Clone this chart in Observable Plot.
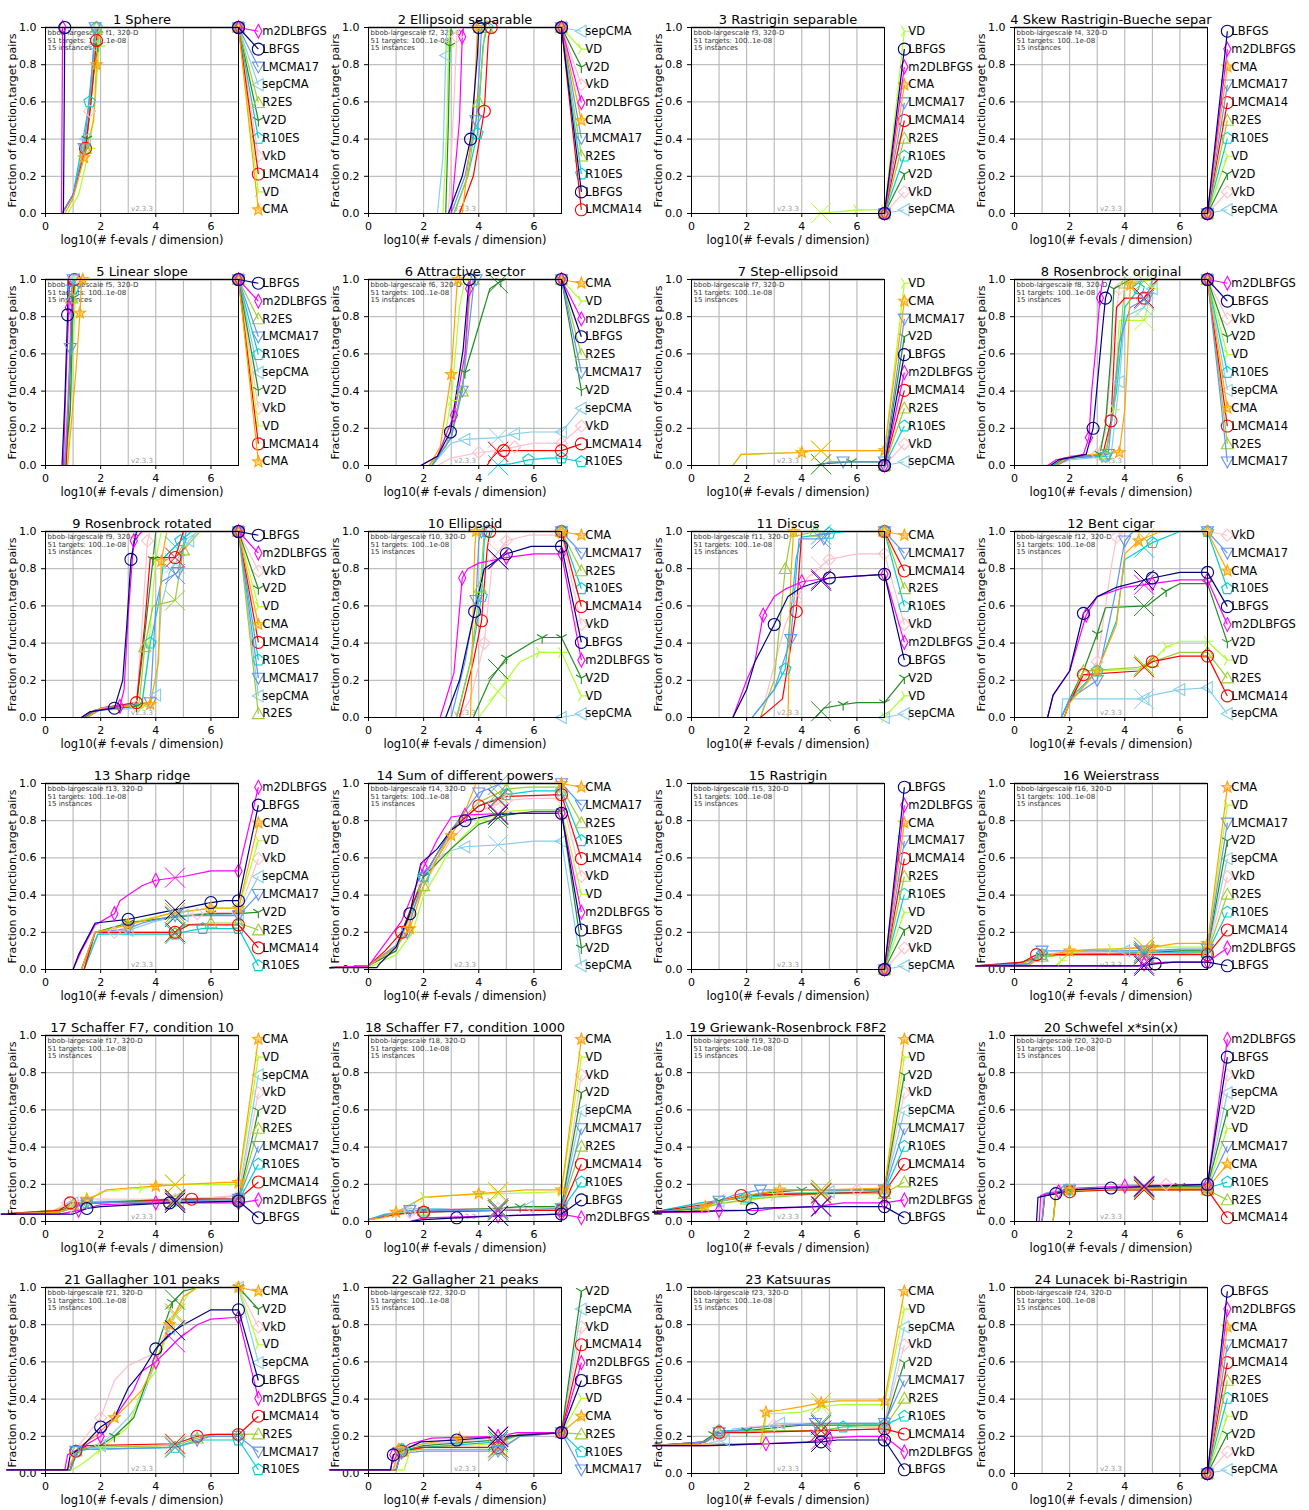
<!DOCTYPE html>
<html><head><meta charset="utf-8">
<script src="https://cdn.jsdelivr.net/npm/d3@7"></script>
<script src="https://cdn.jsdelivr.net/npm/@observablehq/plot@0.6"></script>
<style>
body{margin:0;background:#fff;font-family:"DejaVu Sans",sans-serif;}
#grid{position:relative;width:1309px;height:1510px;overflow:hidden;}
#grid svg{position:absolute;overflow:visible;}
</style></head><body><div id="grid"></div><script>
// ---------- categories ----------
const ALG = ["LBFGS","m2DLBFGS","CMA","LMCMA17","LMCMA14","R2ES","R10ES","V2D","VD","VkD","sepCMA"];
const COLORS = ["#000080","#ff00ff","#ffa500","#6495ed","#ff0000","#9acd32","#00ced1","#228b22","#adff2f","#ffc0cb","#87ceeb"];
const titles = ["1 Sphere","2 Ellipsoid separable","3 Rastrigin separable","4 Skew Rastrigin-Bueche separ",
 "5 Linear slope","6 Attractive sector","7 Step-ellipsoid","8 Rosenbrock original",
 "9 Rosenbrock rotated","10 Ellipsoid","11 Discus","12 Bent cigar",
 "13 Sharp ridge","14 Sum of different powers","15 Rastrigin","16 Weierstrass",
 "17 Schaffer F7, condition 10","18 Schaffer F7, condition 1000","19 Griewank-Rosenbrock F8F2","20 Schwefel x*sin(x)",
 "21 Gallagher 101 peaks","22 Gallagher 21 peaks","23 Katsuuras","24 Lunacek bi-Rastrigin"];
const xTicks = [0,2,4,6];
const xGrid = [1,2,3,4,5,6];
const yTicks = [0,0.2,0.4,0.6,0.8,1];
const yGrid = [0.2,0.4,0.6,0.8];
const crossAt = 4.7; // log10 of median budget
const xLabel = "log10(# f-evals / dimension)";
const yLabel = "Fraction of function,target pairs";

// ---------- series: [algorithm, x0,y0, x1,y1, ...] ----------
const f01 = [
 ["LBFGS",0.6,0,0.65,0,0.7,1,7,1],
 ["m2DLBFGS",0.58,0,0.6,0.5,0.62,1,7,1],
 ["CMA",0.7,0,1.0,0.08,1.4,0.3,1.75,0.5,1.85,0.8,1.95,1,7,1],
 ["LMCMA17",0.6,0,1.0,0.1,1.4,0.35,1.7,0.8,1.8,1,7,1],
 ["LMCMA14",0.6,0,1.0,0.1,1.45,0.35,1.65,0.6,1.85,0.93,1.9,1,7,1],
 ["R2ES",0.6,0,1.0,0.1,1.45,0.35,1.7,0.7,1.85,1,7,1],
 ["R10ES",0.6,0,1.0,0.1,1.6,0.6,1.8,0.95,1.85,1,7,1],
 ["V2D",0.6,0,1.0,0.1,1.5,0.4,1.75,0.75,1.9,0.9,1.95,1,7,1],
 ["VD",0.8,0,1.2,0.1,1.6,0.35,1.8,0.6,1.95,0.9,2.0,1,7,1],
 ["VkD",0.6,0,1.0,0.1,1.6,0.55,1.8,0.95,1.85,1,7,1],
 ["sepCMA",0.6,0,1.0,0.1,1.45,0.4,1.6,0.6,1.75,0.9,1.85,1,7,1]];
const legend01 = ["m2DLBFGS","LBFGS","LMCMA17","sepCMA","R2ES","V2D","R10ES","VkD","LMCMA14","VD","CMA"];
const f02 = [
 ["sepCMA",2.5,0,2.7,0.3,2.8,0.85,2.85,1,7,1],
 ["VD",2.7,0,2.85,0.5,2.9,0.9,2.95,1,7,1],
 ["V2D",2.8,0,2.9,0.5,2.95,0.9,3.0,1,7,1],
 ["VkD",2.9,0,3.1,0.6,3.2,0.95,3.3,1,7,1],
 ["m2DLBFGS",3.0,0,3.3,0.5,3.4,0.95,3.45,1,7,1],
 ["CMA",3.4,0,3.8,0.5,3.95,1,7,1],
 ["LBFGS",2.9,0,3.4,0.2,3.7,0.4,3.95,0.85,4.0,1,7,1],
 ["LMCMA17",3.0,0,3.5,0.2,3.9,0.5,4.05,0.85,4.1,1,7,1],
 ["R2ES",3.1,0,3.6,0.2,4.0,0.6,4.2,0.95,4.3,1,7,1],
 ["R10ES",3.1,0,3.6,0.2,3.95,0.43,4.15,0.9,4.3,1,7,1],
 ["LMCMA14",3.3,0,3.8,0.2,4.2,0.55,4.35,0.95,4.45,1,7,1]];
const legend02 = ["sepCMA","VD","V2D","VkD","m2DLBFGS","CMA","LMCMA17","R2ES","R10ES","LBFGS","LMCMA14"];
const f03 = [["VD",4.5,0,5.4,0.01,6.0,0.02,7,0.02]];
const legend03 = ["VD","LBFGS","m2DLBFGS","CMA","LMCMA17","LMCMA14","R2ES","R10ES","V2D","VkD","sepCMA"];
const f04 = [];
const legend04 = ["LBFGS","m2DLBFGS","CMA","LMCMA17","LMCMA14","R2ES","R10ES","VD","V2D","VkD","sepCMA"];
const f05 = [
 ["LBFGS",0.6,0,0.7,0.34,0.8,0.81,0.82,1,7,1],
 ["m2DLBFGS",0.65,0,0.75,0.48,0.85,0.85,0.88,1,7,1],
 ["R2ES",0.7,0,0.85,0.5,0.95,0.9,1.0,1,7,1],
 ["LMCMA17",0.7,0,0.85,0.4,0.9,0.63,0.95,0.95,1.0,1,7,1],
 ["R10ES",0.7,0,0.9,0.5,1.0,0.95,1.05,1,7,1],
 ["sepCMA",0.75,0,0.95,0.5,1.05,1,7,1],
 ["V2D",0.7,0,0.9,0.3,1.0,0.9,1.05,1,7,1],
 ["VkD",0.7,0,0.95,0.75,1.05,1,7,1],
 ["VD",0.8,0,1.0,0.6,1.1,1,7,1],
 ["LMCMA14",0.75,0,0.95,0.8,1.05,1,7,1],
 ["CMA",0.8,0,1.1,0.5,1.25,0.82,1.3,0.97,1.35,1,7,1]];
const legend05 = ["LBFGS","m2DLBFGS","R2ES","LMCMA17","R10ES","sepCMA","V2D","VkD","VD","LMCMA14","CMA"];
const f06 = [
 ["CMA",2.2,0,2.6,0.1,3.0,0.49,3.2,0.95,3.25,1,7,1],
 ["VD",2.3,0,2.7,0.1,3.0,0.35,3.3,0.85,3.5,1,7,1],
 ["m2DLBFGS",1.9,0,2.5,0.05,3.1,0.27,3.5,0.6,3.65,0.95,3.7,1,7,1],
 ["LBFGS",1.9,0,2.5,0.05,2.97,0.18,3.43,0.62,3.65,1,7,1],
 ["R2ES",2.2,0,2.8,0.1,3.4,0.4,3.7,0.95,3.8,1,7,1],
 ["LMCMA17",2.3,0,3.0,0.15,3.4,0.4,3.8,0.95,3.9,1,7,1],
 ["V2D",2.3,0,3.0,0.15,3.5,0.5,4.0,0.75,4.4,0.95,4.8,0.99,4.95,1,7,1],
 ["sepCMA",2.3,0,3.0,0.12,3.5,0.14,4.7,0.15,5.3,0.17,5.9,0.18,7,0.18],
 ["VkD",2.5,0,3.0,0.04,4.0,0.07,4.7,0.08,5.3,0.1,6.0,0.12,7,0.12],
 ["LMCMA14",4.3,0,4.6,0.07,4.9,0.08,7,0.08],
 ["R10ES",4.6,0,5.2,0.01,5.8,0.03,6.5,0.04,7,0.04]];
const legend06 = ["CMA","VD","m2DLBFGS","LBFGS","R2ES","LMCMA17","V2D","sepCMA","VkD","LMCMA14","R10ES"];
const f07 = [
 ["CMA",1.5,0,1.8,0.06,4.0,0.07,4.3,0.08,7,0.08],
 ["VD",1.5,0,1.8,0.06,4.0,0.07,4.4,0.08,7,0.08],
 ["LMCMA17",4.7,0,5.0,0.02,5.5,0.02,7,0.02],
 ["V2D",4.5,0,4.8,0.01,5.8,0.02,7,0.02]];
const legend07 = ["VD","CMA","LMCMA17","V2D","LBFGS","m2DLBFGS","LMCMA14","R2ES","R10ES","VkD","sepCMA"];
const f08 = [
 ["m2DLBFGS",1.2,0,1.5,0.03,2.5,0.06,2.7,0.15,2.8,0.4,2.95,0.63,3.1,0.9,3.2,1,7,1],
 ["LBFGS",1.3,0,1.6,0.03,2.6,0.06,2.85,0.2,3.0,0.43,3.2,0.75,3.3,0.9,3.5,1,7,1],
 ["VkD",1.4,0,1.8,0.04,3.0,0.06,3.3,0.18,3.6,0.7,3.8,0.95,3.9,1,7,1],
 ["V2D",1.4,0,1.8,0.04,3.1,0.06,3.3,0.22,3.5,0.6,3.6,0.95,4.2,1,7,1],
 ["VD",1.5,0,2.0,0.04,3.3,0.06,3.6,0.3,3.8,0.78,4.7,0.78,5.0,0.95,5.2,1,7,1],
 ["R10ES",1.4,0,2.0,0.04,3.3,0.05,3.7,0.4,4.0,0.85,4.5,0.95,4.6,1,7,1],
 ["sepCMA",1.5,0,2.0,0.03,3.5,0.05,3.8,0.45,4.0,0.8,4.7,0.85,5.0,0.95,5.2,1,7,1],
 ["CMA",1.5,0,2.0,0.05,3.8,0.07,4.0,0.3,4.1,0.58,4.2,0.97,4.3,1,7,1],
 ["LMCMA14",1.5,0,2.0,0.04,3.2,0.06,3.5,0.24,3.7,0.85,4.0,0.9,4.7,0.9,5.0,0.97,5.2,1,7,1],
 ["R2ES",1.5,0,2.0,0.04,3.3,0.06,3.6,0.3,3.9,0.8,4.0,0.98,5.2,1,7,1],
 ["LMCMA17",1.5,0,2.0,0.04,3.4,0.06,3.8,0.66,4.2,0.85,4.8,0.9,5.0,1,7,1]];
const legend08 = ["m2DLBFGS","LBFGS","VkD","V2D","VD","R10ES","sepCMA","CMA","LMCMA14","R2ES","LMCMA17"];
const f09 = [
 ["LBFGS",1.3,0,1.6,0.03,2.5,0.05,2.8,0.2,2.95,0.5,3.1,0.85,3.3,1,7,1],
 ["m2DLBFGS",1.3,0,1.6,0.03,2.7,0.06,2.85,0.15,3.0,0.55,3.2,0.95,3.5,1,7,1],
 ["VkD",1.4,0,1.8,0.04,3.3,0.06,3.5,0.5,3.7,0.95,3.8,1,7,1],
 ["V2D",1.4,0,1.8,0.04,3.3,0.06,3.6,0.45,3.9,0.85,4.0,1,7,1],
 ["VD",1.5,0,2.0,0.05,3.5,0.06,3.7,0.3,4.0,0.85,4.2,1,7,1],
 ["CMA",1.5,0,2.0,0.05,3.8,0.07,4.1,0.3,4.2,0.84,4.4,1,7,1],
 ["LMCMA14",1.5,0,2.0,0.05,3.3,0.08,3.6,0.5,3.8,0.86,4.7,0.86,5.0,1,7,1],
 ["R10ES",1.5,0,2.0,0.05,3.5,0.08,3.8,0.4,4.1,0.61,4.3,0.86,4.9,0.95,5.3,1,7,1],
 ["LMCMA17",1.5,0,2.0,0.05,3.8,0.08,4.0,0.6,4.2,0.73,4.8,0.78,5.1,1,7,1],
 ["sepCMA",1.5,0,2.0,0.04,3.5,0.05,4.0,0.12,4.2,0.6,4.5,0.78,5.2,0.95,5.5,1,7,1],
 ["R2ES",1.5,0,2.0,0.05,3.4,0.08,3.6,0.38,3.9,0.6,4.7,0.63,5.0,0.9,5.6,1,7,1]];
const legend09 = ["LBFGS","m2DLBFGS","VkD","V2D","VD","CMA","LMCMA14","R10ES","LMCMA17","sepCMA","R2ES"];
const f10 = [
 ["CMA",3.7,0,3.85,0.9,3.9,1,7,1],
 ["LMCMA17",3.0,0,3.5,0.3,3.9,0.63,4.0,0.95,4.1,1,7,1],
 ["R2ES",3.2,0,3.7,0.3,4.05,0.7,4.2,1,7,1],
 ["R10ES",3.2,0,3.7,0.3,4.1,0.65,4.2,0.95,4.3,1,7,1],
 ["LMCMA14",3.3,0,3.8,0.3,4.1,0.52,4.3,0.9,4.4,1,7,1],
 ["VkD",3.3,0,3.7,0.1,4.2,0.4,4.5,0.85,5.0,0.95,5.8,0.98,7,0.98],
 ["LBFGS",2.8,0,3.3,0.2,3.85,0.57,4.2,0.8,5.0,0.88,5.9,0.92,7,0.92],
 ["m2DLBFGS",2.6,0,3.1,0.24,3.4,0.75,3.6,0.8,4.0,0.83,5.0,0.86,6.0,0.88,7,0.88],
 ["V2D",3.8,0,4.4,0.2,5.0,0.32,6.0,0.41,6.3,0.43,7,0.43],
 ["VD",4.0,0,4.5,0.1,5.0,0.2,5.5,0.3,6.2,0.35,7,0.35]];
const legend10 = ["CMA","LMCMA17","R2ES","R10ES","LMCMA14","VkD","LBFGS","m2DLBFGS","V2D","VD","sepCMA"];
const f11 = [
 ["CMA",3.5,0,3.6,0.75,3.7,1,7,1],
 ["LMCMA17",2.2,0,3.0,0.15,3.6,0.42,3.9,0.96,4.8,0.96,5.0,1,7,1],
 ["LMCMA14",2.5,0,3.3,0.1,3.8,0.57,4.0,1,7,1],
 ["R2ES",2.5,0,3.0,0.2,3.4,0.8,3.6,0.97,4.5,1,7,1],
 ["R10ES",2.2,0,3.0,0.15,3.4,0.26,3.8,0.86,4.0,0.97,5.0,0.99,5.6,1,7,1],
 ["VkD",2.5,0,3.4,0.5,3.8,0.63,4.2,0.75,5.0,0.85,6.0,0.88,7,0.88],
 ["m2DLBFGS",1.5,0,2.0,0.2,2.3,0.3,2.6,0.55,3.0,0.65,3.4,0.69,4.0,0.73,5.0,0.75,6.0,0.76,7,0.77],
 ["LBFGS",1.5,0,2.0,0.15,2.3,0.3,3.0,0.5,3.5,0.65,4.0,0.7,5.0,0.75,6.0,0.76,7,0.77],
 ["V2D",4.5,0,4.8,0.05,5.5,0.07,6.0,0.08,7,0.08]];
const legend11 = ["CMA","LMCMA17","LMCMA14","R2ES","R10ES","VkD","m2DLBFGS","LBFGS","V2D","VD","sepCMA"];
const f12 = [
 ["VkD",1.7,0,2.0,0.1,3.0,0.3,3.5,0.8,3.7,0.97,4.0,1,7,1],
 ["LMCMA17",1.7,0,2.0,0.1,3.0,0.2,3.7,0.7,4.0,0.95,4.3,1,7,1],
 ["CMA",1.8,0,2.0,0.08,3.0,0.25,3.7,0.5,4.0,0.88,4.5,0.95,5.3,1,7,1],
 ["R10ES",1.7,0,2.0,0.1,3.0,0.25,3.7,0.52,4.0,0.85,5.0,0.94,6.0,1,7,1],
 ["LBFGS",1.2,0,1.4,0.12,2.0,0.25,2.5,0.56,3.0,0.65,3.7,0.7,5.0,0.75,6.0,0.78,7,0.78],
 ["m2DLBFGS",1.2,0,1.4,0.12,2.0,0.25,2.6,0.55,3.0,0.65,4.0,0.7,5.0,0.72,6.0,0.74,7,0.74],
 ["V2D",1.7,0,2.0,0.1,2.5,0.25,3.0,0.45,3.3,0.59,4.8,0.6,5.5,0.68,6.0,0.72,7,0.72],
 ["VD",1.8,0,2.0,0.08,3.0,0.25,4.5,0.26,5.0,0.3,5.5,0.38,6.0,0.41,7,0.41],
 ["R2ES",1.8,0,2.0,0.08,2.5,0.25,4.5,0.27,5.0,0.3,6.0,0.35,7,0.35],
 ["LMCMA14",1.8,0,2.0,0.08,2.5,0.23,4.5,0.25,5.0,0.3,6.0,0.33,7,0.33],
 ["sepCMA",1.7,0,1.75,0.1,4.7,0.1,5.0,0.12,6.0,0.15,7,0.16]];
const legend12 = ["VkD","LMCMA17","CMA","R10ES","LBFGS","m2DLBFGS","V2D","VD","R2ES","LMCMA14","sepCMA"];
const f13 = [
 ["m2DLBFGS",1.0,0,1.3,0.1,1.8,0.24,2.5,0.3,2.7,0.37,3.0,0.4,3.5,0.45,4.0,0.48,5.0,0.5,6.0,0.53,7,0.53],
 ["LBFGS",1.0,0,1.2,0.08,1.8,0.25,3.0,0.27,4.0,0.3,5.0,0.33,6.0,0.36,6.5,0.37,7,0.37],
 ["CMA",1.3,0,1.8,0.2,3.0,0.24,4.5,0.3,6.0,0.33,7,0.33],
 ["VD",1.4,0,1.8,0.2,3.0,0.25,4.5,0.3,6.0,0.33,7,0.33],
 ["VkD",1.3,0,1.8,0.2,2.5,0.2,4.0,0.27,5.5,0.3,7,0.31],
 ["sepCMA",1.3,0,1.9,0.19,3.0,0.21,4.0,0.26,5.0,0.29,7,0.3],
 ["LMCMA17",1.3,0,1.8,0.2,3.0,0.22,3.5,0.25,4.7,0.29,7,0.29],
 ["V2D",1.3,0,1.8,0.2,3.0,0.25,4.5,0.28,6.0,0.3,7,0.3],
 ["R2ES",1.4,0,1.8,0.2,4.7,0.2,5.0,0.24,6.0,0.25,7,0.25],
 ["LMCMA14",1.4,0,1.8,0.2,4.7,0.2,5.2,0.24,7,0.24],
 ["R10ES",1.4,0,1.9,0.19,4.7,0.19,5.3,0.21,5.7,0.22,7,0.22]];
const legend13 = ["m2DLBFGS","LBFGS","CMA","VD","VkD","sepCMA","LMCMA17","V2D","R2ES","LMCMA14","R10ES"];
const f14 = [
 ["CMA",-1.4,0.01,0,0.02,1.0,0.12,1.5,0.22,2.0,0.45,2.5,0.6,3.0,0.72,3.5,0.85,3.9,1,7,1],
 ["LMCMA17",-1.4,0.01,0,0.02,1.0,0.13,1.4,0.2,2.0,0.5,3.0,0.75,4.0,0.95,4.8,1,7,1],
 ["R2ES",-1.4,0.01,0,0.02,1.0,0.12,2.0,0.45,3.0,0.75,4.0,0.9,5.0,0.97,5.8,0.98,7,0.98],
 ["R10ES",-1.4,0.01,0,0.02,1.0,0.12,2.0,0.5,3.0,0.75,4.0,0.88,5.0,0.94,6.0,0.96,7,0.96],
 ["LMCMA14",-1.4,0.01,0,0.02,0.6,0.1,1.2,0.2,2.0,0.5,3.0,0.75,4.0,0.88,5.0,0.93,7,0.94],
 ["VkD",-1.4,0.01,0,0.02,1.0,0.1,2.0,0.45,3.0,0.7,4.0,0.85,5.0,0.91,6.0,0.92,7,0.92],
 ["VD",-1.4,0.01,0,0.01,1.0,0.08,1.6,0.2,2.0,0.4,3.0,0.65,4.0,0.8,5.0,0.85,6.0,0.86,7,0.86],
 ["m2DLBFGS",-1.4,0.01,0,0.02,1.2,0.26,2.0,0.55,2.5,0.7,3.0,0.82,3.5,0.83,5.0,0.84,7,0.84],
 ["LBFGS",-1.4,0.01,0.3,0.01,0.4,0.03,1.0,0.12,1.5,0.3,1.9,0.57,2.5,0.65,3.0,0.75,3.5,0.8,4.5,0.83,5.5,0.84,7,0.84],
 ["V2D",-1.4,0.01,0,0.02,1.0,0.1,2.0,0.5,3.0,0.65,4.0,0.78,5.0,0.83,6.0,0.85,7,0.85],
 ["sepCMA",-1.4,0.01,0,0.02,1.0,0.12,2.0,0.5,2.5,0.6,3.0,0.64,3.5,0.66,4.7,0.67,6.0,0.69,7,0.69]];
const legend14 = ["CMA","LMCMA17","R2ES","R10ES","LMCMA14","VkD","VD","m2DLBFGS","LBFGS","V2D","sepCMA"];
const f15 = [];
const legend15 = ["LBFGS","m2DLBFGS","CMA","LMCMA17","LMCMA14","R2ES","R10ES","VD","V2D","VkD","sepCMA"];
const f16 = [
 ["CMA",-1.4,0.02,0.5,0.02,1.0,0.07,2.0,0.1,3.0,0.11,3.7,0.11,5.0,0.12,5.9,0.14,7,0.14],
 ["VD",-1.4,0.02,1.5,0.02,1.7,0.05,2.0,0.09,3.5,0.11,4.7,0.12,7,0.12],
 ["LMCMA17",-1.4,0.02,0.5,0.03,1.0,0.1,3.0,0.1,4.7,0.1,6.0,0.11,7,0.11],
 ["V2D",-1.4,0.02,0,0.03,1.0,0.07,2.0,0.08,4.7,0.09,6.0,0.1,7,0.1],
 ["sepCMA",-1.4,0.02,0.5,0.03,1.0,0.08,2.5,0.09,4.0,0.1,7,0.1],
 ["VkD",-1.4,0.02,0.5,0.04,1.0,0.08,1.5,0.09,4.7,0.09,7,0.09],
 ["R2ES",-1.4,0.02,0,0.02,1.0,0.07,2.0,0.08,4.7,0.08,7,0.09],
 ["R10ES",-1.4,0.02,0.5,0.03,1.0,0.08,5.0,0.09,7,0.09],
 ["LMCMA14",-1.4,0.02,0.3,0.04,0.8,0.08,2.0,0.08,7,0.08],
 ["m2DLBFGS",-1.4,0.02,4.5,0.02,4.7,0.03,5.5,0.04,7,0.04],
 ["LBFGS",-1.4,0.02,4.7,0.02,5.1,0.03,5.8,0.04,7,0.04]];
const legend16 = ["CMA","VD","LMCMA17","V2D","sepCMA","VkD","R2ES","R10ES","LMCMA14","m2DLBFGS","LBFGS"];
const f17 = [
 ["CMA",-1.6,0.04,0.5,0.05,1.0,0.08,1.5,0.12,2.0,0.15,2.2,0.17,3.0,0.18,4.0,0.19,5.0,0.2,6.5,0.21,7,0.21],
 ["VD",-1.6,0.04,0.5,0.05,1.0,0.07,1.5,0.1,2.0,0.16,3.5,0.18,4.7,0.2,7,0.2],
 ["sepCMA",-1.6,0.04,0.3,0.05,1.0,0.1,2.0,0.11,3.0,0.11,4.7,0.12,6.5,0.13,7,0.14],
 ["VkD",-1.6,0.04,0.3,0.06,0.8,0.1,1.5,0.12,4.7,0.12,6.0,0.13,7,0.14],
 ["V2D",-1.6,0.04,0.5,0.06,1.5,0.1,3.0,0.11,4.7,0.12,7,0.12],
 ["R2ES",-1.6,0.04,0.3,0.06,1.0,0.09,2.0,0.1,4.7,0.11,7,0.12],
 ["LMCMA17",-1.6,0.04,0.5,0.05,1.5,0.1,4.7,0.11,7,0.12],
 ["R10ES",-1.6,0.04,0.5,0.05,1.5,0.1,5.0,0.11,7,0.11],
 ["LMCMA14",-1.6,0.04,0.5,0.06,0.9,0.1,2.0,0.1,5.3,0.12,7,0.12],
 ["m2DLBFGS",-1.6,0.04,0.5,0.04,1.2,0.06,2.0,0.09,4.0,0.1,7,0.1],
 ["LBFGS",-1.6,0.04,1.0,0.04,1.5,0.07,2.0,0.08,4.5,0.1,7,0.11]];
const legend17 = ["CMA","VD","sepCMA","VkD","V2D","R2ES","LMCMA17","R10ES","LMCMA14","m2DLBFGS","LBFGS"];
const f18 = [
 ["CMA",0,0.01,0.5,0.02,1.0,0.05,2.0,0.13,4.0,0.15,5.7,0.17,7,0.17],
 ["VD",0,0.01,1.0,0.04,2.0,0.13,3.0,0.14,4.7,0.15,7,0.16],
 ["VkD",0,0.01,0.6,0.02,1.5,0.05,3.0,0.07,4.7,0.07,7,0.08],
 ["V2D",0,0.01,1.0,0.04,2.0,0.06,4.7,0.07,5.5,0.08,7,0.08],
 ["sepCMA",0,0.01,1.0,0.05,1.5,0.07,4.7,0.07,5.8,0.08,7,0.08],
 ["LMCMA17",0,0.01,1.0,0.05,1.5,0.06,4.7,0.06,7,0.07],
 ["R2ES",0,0.01,1.0,0.04,2.0,0.06,4.7,0.06,7,0.07],
 ["LMCMA14",0,0.01,1.0,0.04,2.0,0.05,4.7,0.06,7,0.06],
 ["R10ES",0,0.01,0.6,0.04,2.0,0.05,4.7,0.06,7,0.06],
 ["LBFGS",1.5,0,2.0,0.01,3.2,0.02,4.6,0.03,7,0.04],
 ["m2DLBFGS",1.5,0,2.0,0.02,4.7,0.03,7,0.04]];
const legend18 = ["CMA","VD","VkD","V2D","sepCMA","LMCMA17","R2ES","LMCMA14","R10ES","LBFGS","m2DLBFGS"];
const f19 = [
 ["CMA",-1.4,0.05,0,0.05,0.5,0.08,1.0,0.11,2.0,0.14,3.2,0.17,4.7,0.17,7,0.18],
 ["VD",-1.4,0.05,0.3,0.06,1.0,0.1,2.0,0.11,3.0,0.14,4.7,0.16,7,0.17],
 ["V2D",-1.4,0.05,0.3,0.07,1.0,0.11,2.5,0.15,4.0,0.17,7,0.17],
 ["VkD",-1.4,0.05,0.5,0.1,2.0,0.13,4.0,0.15,6.0,0.17,7,0.17],
 ["sepCMA",-1.4,0.05,0.3,0.07,1.0,0.11,3.0,0.15,5.0,0.16,6.0,0.17,7,0.17],
 ["LMCMA17",-1.4,0.05,0,0.07,1.0,0.11,1.5,0.14,2.5,0.17,7,0.17],
 ["R10ES",-1.4,0.05,0.3,0.1,2.0,0.13,3.5,0.15,7,0.16],
 ["LMCMA14",-1.4,0.05,0.4,0.09,1.8,0.14,4.7,0.15,7,0.16],
 ["R2ES",-1.4,0.05,0.5,0.08,2.0,0.12,4.7,0.15,7,0.15],
 ["m2DLBFGS",-1.4,0.05,0.5,0.05,1.0,0.06,2.5,0.06,3.0,0.07,4.5,0.08,5.5,0.1,7,0.1],
 ["LBFGS",-1.4,0.05,2.0,0.06,2.2,0.07,4.5,0.08,7,0.08]];
const legend19 = ["CMA","VD","V2D","VkD","sepCMA","LMCMA17","R10ES","LMCMA14","R2ES","m2DLBFGS","LBFGS"];
const f20 = [
 ["LBFGS",0.8,0,0.85,0.13,1.5,0.15,2.0,0.17,3.5,0.18,5.0,0.19,7,0.2],
 ["m2DLBFGS",0.9,0,0.95,0.14,1.6,0.16,2.3,0.18,4.0,0.19,7,0.2],
 ["VkD",1.0,0,1.05,0.15,1.6,0.17,4.0,0.18,5.5,0.2,7,0.2],
 ["sepCMA",1.0,0,1.1,0.15,2.0,0.17,4.7,0.18,7,0.19],
 ["V2D",1.4,0,1.5,0.15,2.0,0.17,4.0,0.18,6.0,0.19,7,0.19],
 ["VD",1.4,0,1.5,0.15,2.0,0.17,7,0.18],
 ["LMCMA17",1.0,0,1.1,0.15,2.0,0.17,4.7,0.18,7,0.18],
 ["CMA",1.4,0,1.5,0.15,2.0,0.17,7,0.18],
 ["R10ES",1.0,0,1.1,0.15,1.9,0.17,4.7,0.18,7,0.18],
 ["R2ES",1.4,0,1.5,0.15,2.0,0.17,7,0.17],
 ["LMCMA14",1.0,0,1.1,0.14,2.0,0.16,3.5,0.17,7,0.17]];
const legend20 = ["m2DLBFGS","LBFGS","VkD","sepCMA","V2D","VD","LMCMA17","CMA","R10ES","R2ES","LMCMA14"];
const f21 = [
 ["CMA",-1.4,0.02,0.8,0.02,1.2,0.14,1.8,0.2,2.5,0.3,3.0,0.37,3.5,0.45,4.0,0.6,4.5,0.8,5.0,0.95,5.5,1,7,1],
 ["V2D",-1.4,0.02,0.9,0.02,1.2,0.13,2.0,0.15,2.5,0.2,3.2,0.3,3.8,0.55,4.2,0.75,4.6,0.92,5.0,0.98,5.5,1,7,1],
 ["VkD",-1.4,0.02,0.8,0.02,1.2,0.15,2.0,0.3,2.5,0.5,3.0,0.58,4.0,0.65,4.5,0.8,5.0,0.95,5.5,1,7,1],
 ["VD",-1.4,0.02,1.0,0.02,1.5,0.07,2.0,0.13,3.0,0.25,3.5,0.45,4.0,0.55,4.5,0.8,5.2,0.97,5.5,1,7,1],
 ["sepCMA",-1.4,0.02,0.8,0.02,1.2,0.13,2.0,0.15,3.0,0.3,3.5,0.4,4.0,0.6,4.5,0.78,5.0,0.95,5.5,1,7,1],
 ["LBFGS",-1.4,0.02,0.8,0.02,0.9,0.1,1.3,0.14,2.0,0.25,2.5,0.3,3.0,0.46,3.5,0.55,4.0,0.67,4.5,0.75,5.0,0.8,6.0,0.88,7,0.88],
 ["m2DLBFGS",-1.4,0.02,0.7,0.02,0.8,0.1,1.3,0.14,2.0,0.2,2.5,0.3,3.2,0.45,3.5,0.55,4.0,0.6,4.8,0.72,5.5,0.8,6.0,0.83,7,0.84],
 ["LMCMA14",-1.4,0.02,0.9,0.02,1.1,0.12,1.5,0.15,4.7,0.16,5.5,0.2,6.0,0.21,7,0.21],
 ["R2ES",-1.4,0.02,0.9,0.02,1.1,0.12,1.5,0.14,4.7,0.15,5.5,0.19,6.2,0.21,7,0.21],
 ["LMCMA17",-1.4,0.02,0.9,0.02,1.1,0.12,1.5,0.13,4.7,0.14,5.5,0.18,6.0,0.2,7,0.2],
 ["R10ES",-1.4,0.02,0.9,0.02,1.1,0.12,1.5,0.13,4.7,0.14,5.7,0.18,7,0.18]];
const legend21 = ["CMA","V2D","VkD","VD","sepCMA","LBFGS","m2DLBFGS","LMCMA14","R2ES","LMCMA17","R10ES"];
const f22 = [
 ["V2D",-1.4,0.02,1.0,0.02,1.2,0.12,2.0,0.15,4.7,0.18,5.5,0.21,7,0.22],
 ["sepCMA",-1.4,0.02,0.9,0.02,1.1,0.13,2.0,0.16,4.7,0.18,6.0,0.22,7,0.22],
 ["VkD",-1.4,0.02,0.9,0.02,1.1,0.13,2.0,0.16,4.7,0.19,5.5,0.21,7,0.22],
 ["LMCMA14",-1.4,0.02,1.0,0.02,1.2,0.12,2.0,0.14,4.7,0.14,5.0,0.2,7,0.22],
 ["m2DLBFGS",-1.4,0.02,0.8,0.02,0.9,0.1,1.5,0.16,2.3,0.19,4.7,0.2,5.4,0.22,7,0.22],
 ["LBFGS",-1.4,0.02,0.8,0.02,0.9,0.1,1.9,0.17,3.2,0.18,5.0,0.2,7,0.22],
 ["VD",-1.4,0.02,1.3,0.02,1.5,0.12,2.0,0.14,4.7,0.16,5.5,0.21,7,0.22],
 ["CMA",-1.4,0.02,0.9,0.02,1.1,0.13,2.0,0.16,3.3,0.19,5.0,0.2,7,0.22],
 ["R2ES",-1.4,0.02,1.0,0.02,1.2,0.12,2.0,0.13,4.7,0.13,5.5,0.2,7,0.22],
 ["R10ES",-1.4,0.02,1.0,0.02,1.2,0.13,2.0,0.14,4.7,0.17,5.5,0.21,7,0.22],
 ["LMCMA17",-1.4,0.02,1.0,0.02,1.2,0.11,2.0,0.12,4.7,0.12,5.5,0.2,7,0.22]];
const legend22 = ["V2D","sepCMA","VkD","LMCMA14","m2DLBFGS","LBFGS","VD","CMA","R2ES","R10ES","LMCMA17"];
const f23 = [
 ["CMA",-1.4,0.15,1.0,0.16,2.5,0.16,2.7,0.33,3.2,0.34,4.0,0.36,4.7,0.38,5.3,0.39,7,0.39],
 ["VD",-1.4,0.15,1.0,0.15,2.6,0.16,2.7,0.32,4.0,0.33,4.7,0.36,5.4,0.37,7,0.37],
 ["sepCMA",-1.4,0.15,0.5,0.16,1.2,0.18,1.5,0.24,2.5,0.25,3.2,0.27,4.7,0.27,7,0.27],
 ["VkD",-1.4,0.15,0.5,0.17,1.0,0.2,2.0,0.25,3.0,0.26,4.2,0.27,7,0.27],
 ["V2D",-1.4,0.15,0.3,0.16,0.8,0.21,1.2,0.22,2.0,0.23,4.0,0.26,7,0.26],
 ["LMCMA17",-1.4,0.15,0.5,0.17,1.0,0.22,2.5,0.25,4.5,0.27,7,0.27],
 ["R2ES",-1.4,0.15,0.5,0.17,1.0,0.22,2.5,0.23,4.7,0.23,5.5,0.25,7,0.25],
 ["R10ES",-1.4,0.15,0.5,0.17,1.0,0.23,4.7,0.23,5.5,0.25,6.3,0.26,7,0.26],
 ["LMCMA14",-1.4,0.15,0.5,0.17,1.0,0.22,2.0,0.22,4.7,0.23,7,0.24],
 ["m2DLBFGS",-1.4,0.15,0.8,0.15,2.7,0.16,4.2,0.17,5.0,0.19,6.0,0.2,7,0.2],
 ["LBFGS",-1.4,0.15,0.5,0.15,4.7,0.17,5.3,0.18,7,0.18]];
const legend23 = ["CMA","VD","sepCMA","VkD","V2D","LMCMA17","R2ES","R10ES","LMCMA14","m2DLBFGS","LBFGS"];
const f24 = [];
const legend24 = ["LBFGS","m2DLBFGS","CMA","LMCMA17","LMCMA14","R2ES","R10ES","VD","V2D","VkD","sepCMA"];

const FUNCS = [[f01,legend01],[f02,legend02],[f03,legend03],[f04,legend04],[f05,legend05],[f06,legend06],
 [f07,legend07],[f08,legend08],[f09,legend09],[f10,legend10],[f11,legend11],[f12,legend12],
 [f13,legend13],[f14,legend14],[f15,legend15],[f16,legend16],[f17,legend17],[f18,legend18],
 [f19,legend19],[f20,legend20],[f21,legend21],[f22,legend22],[f23,legend23],[f24,legend24]];

// ---------- marker shapes ----------
const rad = s => Math.sqrt(s / Math.PI);
const shape = pts => ({draw(c, s) { const r = rad(s); pts.forEach(([a, b], i) => i ? c.lineTo(a * r, b * r) : c.moveTo(a * r, b * r)); c.closePath(); }});
const spokes = pts => ({draw(c, s) { const r = rad(s); for (const [a, b] of pts) { c.moveTo(0, 0); c.lineTo(a * r, b * r); } }});
const circle = {draw(c, s) { const r = rad(s); c.moveTo(r, 0); c.arc(0, 0, r, 0, 2 * Math.PI); }};
const polyPts = (n, rot, k2) => d3.range(n * (k2 ? 2 : 1)).map(k => { const a = rot + k * 2 * Math.PI / (n * (k2 ? 2 : 1)); const rr = k2 && k % 2 ? k2 : 1; return [rr * Math.cos(a), rr * Math.sin(a)]; });
const pentagon = shape(polyPts(5, -Math.PI / 2));
const star5 = shape(polyPts(5, -Math.PI / 2, 0.42));
const SYMBOL = {
  LBFGS: circle, m2DLBFGS: shape([[0,-1.15],[0.6,0],[0,1.15],[-0.6,0]]), CMA: star5,
  LMCMA17: shape([[-1,-0.8],[1,-0.8],[0,1]]), LMCMA14: circle, R2ES: shape([[0,-1],[1,0.8],[-1,0.8]]),
  R10ES: pentagon, V2D: spokes([[0,1],[-0.87,-0.5],[0.87,-0.5]]), VD: spokes([[1,0],[-0.5,-0.87],[-0.5,0.87]]),
  VkD: shape([[0,-1],[1,0],[0,1],[-1,0]]), sepCMA: shape([[-1,0],[0.8,-1],[0.8,1]])
};
const CROSS = spokes([[1,1],[1,-1],[-1,1],[-1,-1]]);
const colorOf = a => COLORS[ALG.indexOf(a)];

function pairs(arr) { const out = []; for (let i = 0; i < arr.length; i += 2) out.push([arr[i], arr[i + 1]]); return out; }
function interp(p, x) {
  if (x <= p[0][0]) return p[0][1];
  for (let i = 1; i < p.length; i++) if (x <= p[i][0]) { const [x0, y0] = p[i - 1], [x1, y1] = p[i]; return y0 + (y1 - y0) * (x - x0) / (x1 - x0); }
  return p[p.length - 1][1];
}

function panel(idx) {
  const [curves, order] = FUNCS[idx];
  const series = new Map(curves.map(r => [r[0], pairs(r.slice(1))]));
  const LX = 7.72;
  const marks = [
    Plot.ruleX(xGrid, {stroke: "#b0b0b0", strokeWidth: 1}),
    Plot.ruleY(yGrid, {stroke: "#b0b0b0", strokeWidth: 1}),
    Plot.ruleY([1], {stroke: "#b0b0b0", strokeWidth: 2.5}),
    Plot.text([`bbob-largescale f${idx + 1}, 320-D\n51 targets: 100..1e-08\n15 instances`],
      {frameAnchor: "top-left", dx: 2, dy: 2, lineAnchor: "top", textAnchor: "start", fontSize: 7, lineHeight: 1.1, fill: "#333"}),
    Plot.text(["v2.3.3"], {frameAnchor: "bottom", dy: -3, lineAnchor: "bottom", fontSize: 7, fill: "#999"})
  ];
  for (const a of [...ALG].reverse()) {
    const p = series.get(a);
    if (!p) continue;
    marks.push(Plot.line(p, {x: d => d[0], y: d => d[1], stroke: colorOf(a), strokeWidth: 1.2}));
  }
  for (const a of [...ALG].reverse()) {
    const p = series.get(a);
    const col = colorOf(a), star = a === "CMA";
    const final = p ? p[p.length - 1][1] : 0;
    const k = order.indexOf(a);
    const ly = 0.98 - k * 0.096;
    const pts = [[7, final], [LX, ly]];
    if (p && p.length >= 6) { pts.push(p[Math.floor(p.length / 3)], p[Math.floor(2 * p.length / 3)]); }
    else if (p && p.length >= 3) pts.push(p[Math.floor(p.length / 2)]);
    marks.push(Plot.link([[7, final, LX, ly]], {x1: d => d[0], y1: d => d[1], x2: d => d[2], y2: d => d[3], stroke: col, strokeWidth: 1.2}));
    marks.push(Plot.dot(pts, {x: d => d[0], y: d => d[1], symbol: SYMBOL[a], r: 6,
      stroke: col, strokeWidth: 1.1, fill: star ? col : "none", fillOpacity: 0.45}));
    if (p && p[0][0] < crossAt) {
      const yc = interp(p, crossAt);
      if (yc < 0.995) marks.push(Plot.dot([[crossAt, yc]], {x: d => d[0], y: d => d[1], symbol: CROSS, r: 10, stroke: col, strokeWidth: 1, fill: "none"}));
    }
    marks.push(Plot.text([[LX, ly, a]], {x: d => d[0], y: d => d[1], text: d => d[2], textAnchor: "start", dx: 4, fontSize: 11.5, fill: "black"}));
  }
  marks.push(
    Plot.frame({stroke: "black", strokeWidth: 1}),
    Plot.text([titles[idx]], {frameAnchor: "top", dy: -4, lineAnchor: "bottom", fontSize: 13, fill: "black"}),
    Plot.text([xLabel], {frameAnchor: "bottom", dy: 27, lineAnchor: "middle", fontSize: 11.5, fill: "black"}),
    Plot.text([yLabel], {frameAnchor: "left", dx: -33, rotate: -90, textAnchor: "middle", lineAnchor: "middle", fontSize: 11, fill: "black"})
  );
  return Plot.plot({
    width: 323, height: 252,
    marginLeft: 45, marginRight: 85, marginTop: 27, marginBottom: 39,
    style: {fontFamily: "DejaVu Sans", fontSize: "11px", overflow: "visible", background: "transparent", color: "black"},
    x: {domain: [0, 7], ticks: xTicks, tickFormat: d3.format("d"), tickSize: 4, label: null},
    y: {domain: [0, 1], ticks: yTicks, tickFormat: d3.format(".1f"), tickSize: 4, label: null},
    marks
  });
}

const host = document.getElementById("grid");
for (let i = 0; i < 24; i++) {
  const svg = panel(i);
  svg.style.left = (i % 4) * 323 + "px";
  svg.style.top = Math.floor(i / 4) * 252 + "px";
  host.appendChild(svg);
}
</script></body></html>
